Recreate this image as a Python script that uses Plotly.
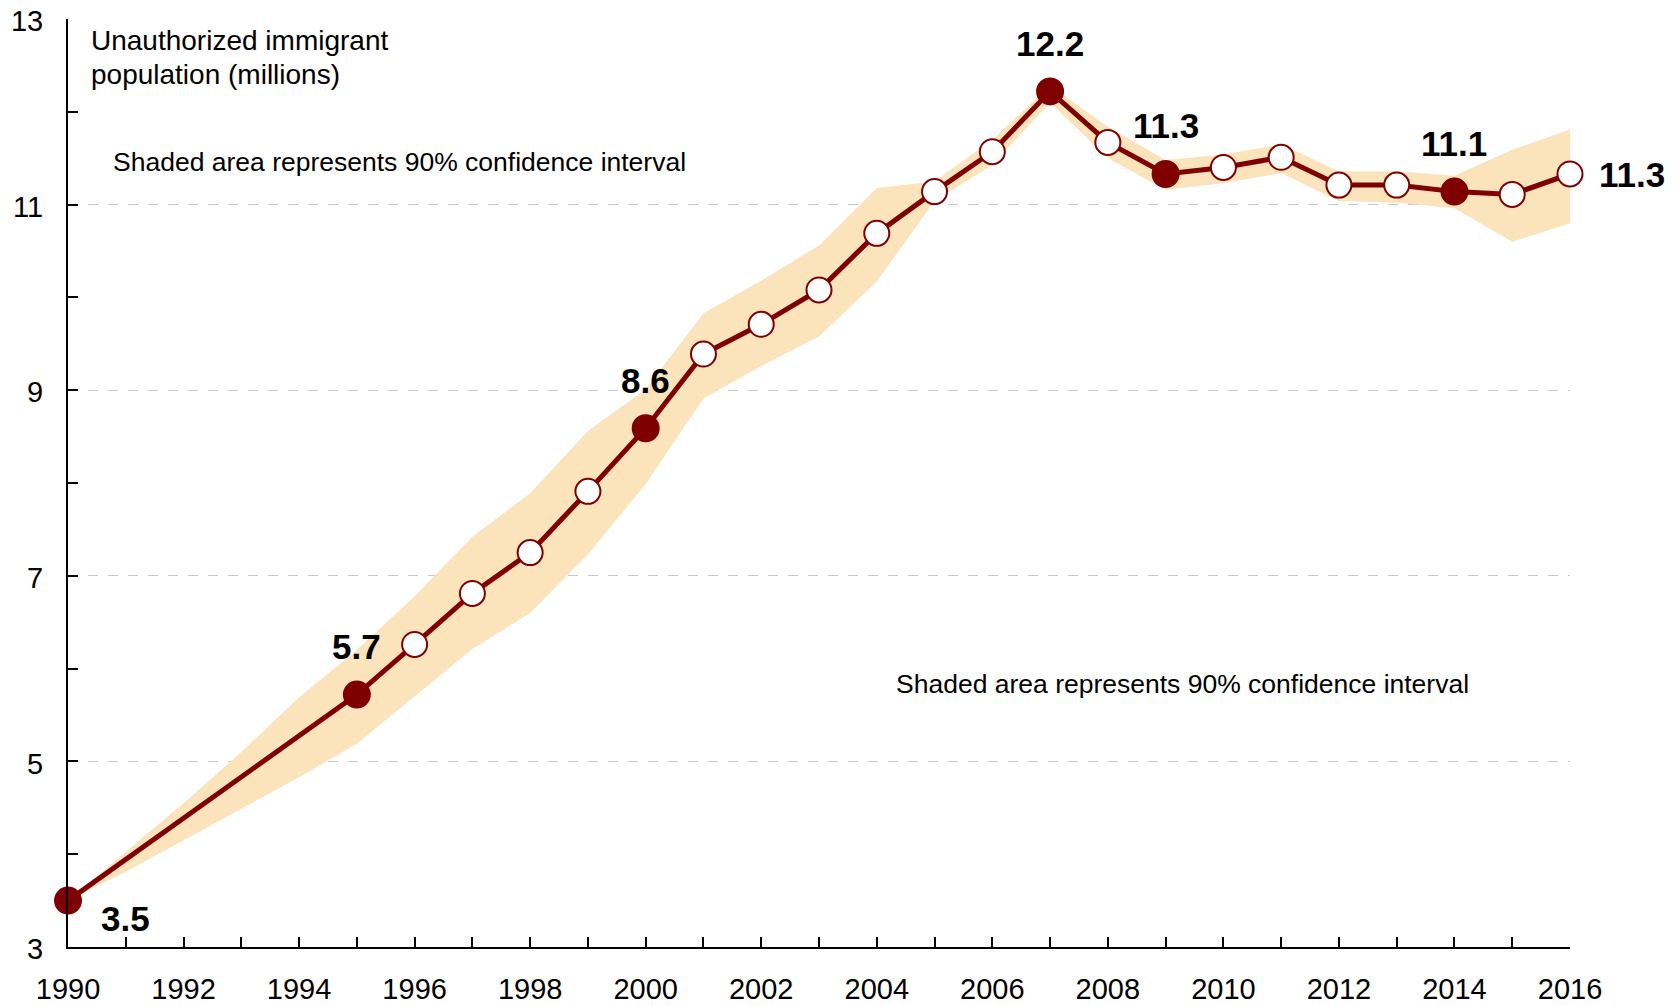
import plotly.graph_objects as go

# ---------------- data ----------------
band_years = list(range(1990, 2017))
est_years = [1990] + list(range(1995, 2017))
population = [3.5, 5.72, 6.26, 6.81, 7.25, 7.91, 8.59, 9.39, 9.71, 10.08, 10.69,
              11.14, 11.57, 12.22, 11.67, 11.33, 11.40, 11.51, 11.21, 11.21, 11.14,
              11.11, 11.33]
ci_lower = [3.5, 3.81, 4.15, 4.49, 4.83, 5.19, 5.70, 6.21, 6.60, 7.23, 7.99, 8.91,
            9.26, 9.58, 10.17, 11.04, 11.43, 12.10, 11.50, 11.16, 11.23, 11.34,
            11.04, 11.02, 10.96, 10.60, 10.80]
ci_upper = [3.5, 4.02, 4.55, 5.10, 5.69, 6.20, 6.78, 7.42, 7.89, 8.56, 9.01, 9.83,
            10.18, 10.56, 11.18, 11.25, 11.70, 12.28, 11.84, 11.48, 11.54, 11.65,
            11.36, 11.36, 11.31, 11.59, 11.81]
highlight_years = [1990, 1995, 2000, 2007, 2009, 2014]
labeled_years = [1990, 1995, 2000, 2007, 2009, 2014, 2016]
y_tick_vals = [3, 5, 7, 9, 11, 13]
x_tick_vals = list(range(1990, 2017, 2))
title_lines = ["Unauthorized immigrant", "population (millions)"]
ci_note = "Shaded area represents 90% confidence interval"

# ---------------- style ----------------
MAROON = "#7F0000"
BAND = "#FBE3BC"
FONT = "Liberation Sans, Arial, sans-serif"

fig = go.Figure()

fig.add_trace(go.Scatter(x=band_years, y=ci_lower, mode="lines",
                         line=dict(width=0, color=BAND), hoverinfo="skip",
                         showlegend=False))
fig.add_trace(go.Scatter(x=band_years, y=ci_upper, mode="lines",
                         line=dict(width=0, color=BAND), fill="tonexty",
                         fillcolor=BAND, hoverinfo="skip", showlegend=False))

marker_colors = [MAROON if yr in highlight_years else "white" for yr in est_years]
marker_sizes = [26 if yr in highlight_years else 25 for yr in est_years]
fig.add_trace(go.Scatter(x=est_years, y=population, mode="lines+markers",
                         line=dict(color=MAROON, width=5),
                         marker=dict(color=marker_colors, size=marker_sizes,
                                     opacity=1,
                                     line=dict(color=MAROON, width=2)),
                         cliponaxis=False, showlegend=False))

# value labels
for yr in labeled_years:
    v = population[est_years.index(yr)]
    txt = f"{v:.1f}"
    if yr == 1990:
        kw = dict(xanchor="center", yanchor="middle", xshift=57, yshift=-18)
    elif yr == 2016:
        kw = dict(xanchor="left", yanchor="middle", xshift=27, yshift=-1)
    else:
        kw = dict(xanchor="center", yanchor="middle", xshift=0, yshift=48)
    fig.add_annotation(x=yr, y=v, xref="x", yref="y", text=txt, showarrow=False,
                       font=dict(family=FONT, size=35, color="black", weight="bold"),
                       **kw)

for line_text, ypos in zip(title_lines, [12.77, 12.40]):
    fig.add_annotation(x=1990.36, y=ypos, xref="x", yref="y", text=line_text,
                       showarrow=False, xanchor="left", yanchor="middle",
                       font=dict(family=FONT, size=28, color="black"))
fig.add_annotation(x=1990.75, y=11.455, xref="x", yref="y", text=ci_note,
                   showarrow=False, xanchor="left", yanchor="middle",
                   font=dict(family=FONT, size=26.5, color="black"))
fig.add_annotation(x=2004.30, y=5.83, xref="x", yref="y", text=ci_note,
                   showarrow=False, xanchor="left", yanchor="middle",
                   font=dict(family=FONT, size=26.5, color="black"))

fig.update_xaxes(range=[1990, 2016], tickvals=x_tick_vals,
                 ticktext=[str(v) for v in x_tick_vals],
                 ticks="inside", ticklen=10, tickwidth=1.5, tickcolor="black",
                 minor=dict(dtick=1, tick0=1990, ticks="inside", ticklen=10,
                            tickwidth=1.5, tickcolor="black", showgrid=False),
                 showline=True, linecolor="black", linewidth=2,
                 showgrid=False, zeroline=False, ticklabelstandoff=15,
                 ticklabeloverflow="allow", automargin=False,
                 tickfont=dict(family=FONT, size=29, color="black"))
fig.update_yaxes(range=[3, 13], tickvals=y_tick_vals,
                 ticktext=[str(v) for v in y_tick_vals],
                 ticks="inside", ticklen=10, tickwidth=1.5, tickcolor="black",
                 minor=dict(dtick=1, tick0=3, ticks="inside", ticklen=10,
                            tickwidth=1.5, tickcolor="black", showgrid=False),
                 showline=True, linecolor="black", linewidth=2,
                 showgrid=True, gridcolor="#C8C8C8", gridwidth=1,
                 griddash="10px,10px", zeroline=False, ticklabelstandoff=17,
                 ticklabelshift=2, ticklabeloverflow="allow", automargin=False,
                 tickfont=dict(family=FONT, size=29, color="black"))

fig.update_layout(width=1679, height=1006, autosize=False,
                  margin=dict(l=59.5, r=117, t=10.6, b=67.4, pad=0),
                  plot_bgcolor="white", paper_bgcolor="white",
                  font=dict(family=FONT), showlegend=False)

fig.write_html("out.html")
